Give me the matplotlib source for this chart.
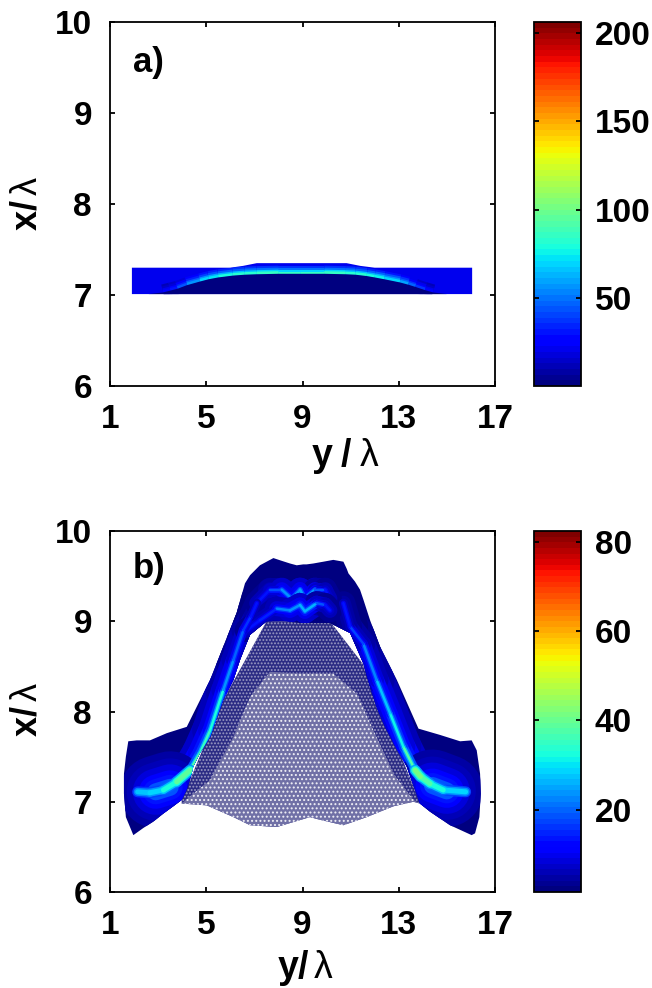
# -*- coding: utf-8 -*-
import numpy as np
import matplotlib
matplotlib.use('Agg')
import matplotlib.pyplot as plt
from matplotlib import cm, colors
from matplotlib.collections import LineCollection
from matplotlib.patches import Polygon

plt.rcParams['font.family'] = ['Liberation Sans', 'DejaVu Sans']
plt.rcParams['font.weight'] = 'bold'
plt.rcParams['mathtext.fontset'] = 'custom'
plt.rcParams['mathtext.bf'] = 'Liberation Sans:bold'
plt.rcParams['mathtext.rm'] = 'Liberation Sans:weight=normal'
plt.rcParams['mathtext.it'] = 'Liberation Sans:weight=normal'
plt.rcParams['hatch.linewidth'] = 0.9

W, H = 652.0, 988.0
jet = plt.get_cmap('jet', 64)

# axis ticks
y_ticks = [1, 5, 9, 13, 17]
x_ticks = [6, 7, 8, 9, 10]
cbar_a_ticks = [50, 100, 150, 200]
cbar_b_ticks = [20, 40, 60, 80]
cbar_a_range = (0.5, 206)
cbar_b_range = (1.5, 82.5)

# panel a: band outline, dome under the ridge, ridge line
a_top_y = [1.91, 6.0, 6.53, 7.10, 10.83, 11.4, 12.0, 16.05]
a_top_x = [7.30, 7.30, 7.32, 7.35, 7.35, 7.32, 7.30, 7.30]
a_bottom_y = [1.91, 16.05]
a_bottom_x = [7.01, 7.01]
a_band_value = 20
a_dome_value = 1
a_ridge_y = [3.2, 3.5, 3.8, 4.2, 4.74, 5.1, 5.5, 6.1, 6.6, 7.1, 8.0, 8.9, 9.9, 10.8, 11.2, 11.67,
             12.0, 12.4, 13.05, 13.4, 13.7, 14.1, 14.43]
a_ridge_x = [7.04, 7.06, 7.08, 7.12, 7.16, 7.185, 7.205, 7.225, 7.235, 7.24, 7.245, 7.245, 7.245, 7.24,
             7.235, 7.22, 7.205, 7.185, 7.15, 7.125, 7.10, 7.065, 7.04]
a_ridge_v = [22, 28, 36, 50, 66, 72, 76, 80, 82, 85, 85, 85, 85, 85, 82, 80, 78, 76, 66, 54, 42, 30, 22]
a_dome_tail_y = [2.6, 15.0]
a_dome_tail_x = [7.01, 7.01]

# panel b: outline of the dense part
b_upper_y = [1.76, 2.11, 2.66, 3.36, 4.19, 4.60, 5.16, 5.71, 6.26, 6.61, 6.82, 7.23, 7.51, 7.79, 8.13,
             8.48, 8.76, 9.03, 9.17, 9.45, 9.87, 10.28, 10.70, 10.84, 10.91, 11.18, 11.39, 11.53,
             11.81, 12.22, 12.92, 13.47, 13.82, 14.72, 15.55, 16.03, 16.24, 16.38, 16.41, 16.35, 16.17]
b_upper_x = [7.67, 7.68, 7.68, 7.76, 7.83, 8.05, 8.35, 8.72, 9.09, 9.42, 9.51, 9.62, 9.66, 9.70, 9.67,
             9.64, 9.62, 9.63, 9.63, 9.64, 9.66, 9.68, 9.66, 9.58, 9.53, 9.44, 9.35, 9.24,
             9.01, 8.72, 8.35, 8.02, 7.81, 7.74, 7.67, 7.68, 7.57, 7.31, 7.09, 6.83, 6.65]
b_lower_y = [16.03, 15.13, 14.3, 13.88, 13.33, 12.78, 12.43, 12.08, 11.81, 11.53, 10.98, 10.14, 8.90,
             8.34, 7.51, 6.82, 6.40, 6.13, 5.71, 5.16, 4.74, 4.46, 4.39, 4.21, 3.98, 3.63, 3.22, 2.80,
             2.39, 1.97, 1.66, 1.58, 1.58, 1.66]
b_lower_x = [6.63, 6.74, 6.89, 6.98, 7.39, 7.65, 7.83, 8.05, 8.27, 8.53, 8.87, 8.98, 8.98,
             9.00, 9.00, 8.85, 8.57, 8.35, 8.13, 7.72, 7.54, 7.39, 7.31, 7.15, 7.02, 6.95, 6.87, 6.78,
             6.71, 6.63, 6.83, 7.09, 7.31, 7.50]
b_dense_value = 2

# panel b: sparse part under the arch
b_sparse_low_y = [3.98, 5.02, 6.13, 6.82, 7.93, 9.31, 9.73, 10.70, 11.67, 12.78, 13.61, 13.88]
b_sparse_low_x = [6.98, 6.96, 6.83, 6.74, 6.72, 6.83, 6.80, 6.74, 6.83, 6.95, 7.00, 6.98]
b_sparse_top_y = [13.88, 11.5, 10.14, 8.90, 7.51, 5.71, 3.98]
b_sparse_top_x = [7.00, 8.53, 9.00, 9.00, 9.00, 8.13, 7.02]
b_light_top_y = [13.61, 12.78, 11.95, 11.25, 10.28, 8.90, 7.65, 6.82, 6.13, 5.16, 4.46]
b_light_top_x = [7.02, 7.31, 7.79, 8.20, 8.42, 8.42, 8.44, 8.16, 7.72, 7.24, 7.09]

# panel b: bright ridges
b_left_y = [4.33, 4.74, 5.16, 5.71, 6.13, 6.54, 6.85, 7.1]
b_left_x = [7.35, 7.54, 7.79, 8.24, 8.57, 8.90, 9.05, 9.20]
b_left_v = [42, 32, 38, 26, 22, 18, 14, 12]
b_right_y = [13.68, 13.19, 12.64, 12.08, 11.53, 10.98, 10.70]
b_right_x = [7.35, 7.61, 7.98, 8.35, 8.75, 8.94, 9.20]
b_right_v = [42, 32, 30, 26, 20, 14, 12]
b_chain1_y = [7.1, 7.65, 8.14, 8.55, 8.90, 9.10, 9.52, 9.94, 10.14]
b_chain1_x = [9.20, 9.35, 9.35, 9.25, 9.35, 9.25, 9.35, 9.35, 9.25]
b_chain1_v = [12, 16, 20, 28, 20, 30, 20, 16, 12]
b_chain2_y = [6.68, 7.23, 7.93, 8.48, 8.90, 9.10, 9.59, 9.94, 10.14]
b_chain2_x = [8.90, 9.01, 9.14, 9.12, 9.18, 9.11, 9.20, 9.18, 9.12]
b_chain2_v = [14, 14, 16, 28, 20, 32, 20, 16, 12]
b_lobe_left_y = [2.15, 2.66, 3.22, 3.77, 4.33]
b_lobe_left_x = [7.11, 7.10, 7.13, 7.22, 7.35]
b_lobe_left_v = [27, 27, 30, 36, 42]
b_lobe_right_y = [15.78, 14.85, 14.30, 13.9, 13.68]
b_lobe_right_x = [7.11, 7.13, 7.20, 7.28, 7.35]
b_lobe_right_v = [28, 30, 36, 40, 42]
# centre of the broad blue glow in each lobe
b_glow_left_y = [2.9, 3.5]
b_glow_left_x = [7.11, 7.16]
b_glow_right_y = [15.0, 14.4]
b_glow_right_x = [7.12, 7.18]
b_glow_steps = [(72, 4.5), (58, 6.5), (46, 8.5), (34, 11), (25, 14), (17, 19)]

# stroke width (px) and share of the ridge value, wide to narrow
a_steps = [(14, 0.45), (10, 0.6), (6, 0.8), (3, 1.0)]
glow_steps = [(36, 0.2), (24, 0.28), (15, 0.38), (9, 0.5), (5, 0.72), (2.5, 1.0)]
lobe_core = [(11, 0.6), (8, 0.82), (5, 1.0)]
px = 72.0 / 100


def axes_px(left, top, right, bottom):
    return plt.gcf().add_axes([left / W, 1 - bottom / H, (right - left) / W, (bottom - top) / H])


def ridge(ax, y, x, v, norm, steps, clip=None, z=3, cap='round'):
    y = np.array(y, float)
    x = np.array(x, float)
    v = np.array(v, float)
    pts = np.column_stack([y, x])
    segs = np.stack([pts[:-1], pts[1:]], axis=1)
    mid = (v[:-1] + v[1:]) / 2.0
    for i, (w, f) in enumerate(steps):
        lc = LineCollection(segs, colors=jet(norm(mid * f)), linewidths=w * px,
                            capstyle=cap, joinstyle='round', zorder=z + i * 0.01)
        ax.add_collection(lc)
        if clip is not None:
            lc.set_clip_path(clip)


def lobe_glow(ax, y, x, norm, clip, z):
    for i, (w, v) in enumerate(b_glow_steps):
        line, = ax.plot(y, x, color=jet(norm(v)), lw=w * px, solid_capstyle='round', zorder=z + i * 0.01)
        line.set_clip_path(clip)


def dress(ax, cax, norm, cticks, ylab, letter, ltop):
    ax.set_xlim(1, 17)
    ax.set_ylim(6, 10)
    ax.set_xticks(y_ticks)
    ax.set_yticks(x_ticks)
    ax.tick_params(axis='x', direction='in', length=3.5, width=1.3, top=True, labelsize=24, pad=13)
    ax.tick_params(axis='y', direction='in', length=3.5, width=1.3, right=True, labelsize=24, pad=13)
    for s in ax.spines.values():
        s.set_linewidth(1.3)
    ax.text(1.96, ltop, letter, fontsize=25, fontweight='bold', va='center', ha='left', zorder=10)
    cb = plt.gcf().colorbar(cm.ScalarMappable(norm=norm, cmap=jet), cax=cax)
    cb.set_ticks(cticks)
    cax.tick_params(axis='y', direction='in', length=3.5, width=1.3, left=True, right=True,
                    labelsize=24, pad=10)
    cb.outline.set_linewidth(1.3)
    plt.gcf().text(27 / W, 1 - ylab / H, r'$\mathbf{x/}\,\mathrm{\lambda}$', rotation=90, fontsize=26,
                   ha='center', va='center')


fig = plt.figure(figsize=(W / 100, H / 100), dpi=100)

# panel a
ax = axes_px(110, 22, 495, 386)
cax = axes_px(534, 22, 581, 386)
norm_a = colors.Normalize(*cbar_a_range)
band = ax.fill(a_top_y + a_bottom_y[::-1], a_top_x + a_bottom_x[::-1], color=jet(norm_a(a_band_value)), lw=0, zorder=2)[0]
ridge(ax, a_ridge_y, a_ridge_x, a_ridge_v, norm_a, a_steps, clip=band, cap='butt')
dome_y = a_dome_tail_y[:1] + a_ridge_y + a_dome_tail_y[1:]
dome_x = a_dome_tail_x[:1] + [v - 0.012 for v in a_ridge_x] + a_dome_tail_x[1:]
ax.fill(dome_y, dome_x, color=jet(norm_a(a_dome_value)), lw=0, zorder=4)
dress(ax, cax, norm_a, cbar_a_ticks, 204, 'a)', 9.56)
fig.text(346 / W, 1 - 456 / H, r'$\mathbf{y\;/}\;\mathrm{\lambda}$', fontsize=27, ha='center', va='center')

# panel b
ax = axes_px(110, 531, 495, 892)
cax = axes_px(534, 531, 581, 892)
norm_b = colors.Normalize(*cbar_b_range)
sparse = np.column_stack([b_sparse_low_y + b_sparse_top_y, b_sparse_low_x + b_sparse_top_x])
ax.add_patch(Polygon(sparse, closed=True, facecolor='#2c2c84', edgecolor='#9c9cc4', hatch='.....', lw=0, zorder=1))
light = np.column_stack([b_sparse_low_y + b_light_top_y, b_sparse_low_x + b_light_top_x])
ax.add_patch(Polygon(light, closed=True, facecolor='#7070a6', edgecolor='#f0f0f6', hatch='....', lw=0, zorder=1.5))
dense = np.column_stack([b_upper_y + b_lower_y, b_upper_x + b_lower_x])
patch = Polygon(dense, closed=True, facecolor=jet(norm_b(b_dense_value)), edgecolor='none', zorder=2)
ax.add_patch(patch)
ridge(ax, b_left_y, b_left_x, b_left_v, norm_b, glow_steps[:3], clip=patch)
ridge(ax, b_right_y, b_right_x, b_right_v, norm_b, glow_steps[:3], clip=patch)
ridge(ax, b_chain1_y, b_chain1_x, b_chain1_v, norm_b, glow_steps[1:], clip=patch, z=3.2)
ridge(ax, b_chain2_y, b_chain2_x, b_chain2_v, norm_b, glow_steps[1:], clip=patch, z=3.25)
lobe_glow(ax, b_glow_left_y, b_glow_left_x, norm_b, patch, 3.3)
lobe_glow(ax, b_glow_right_y, b_glow_right_x, norm_b, patch, 3.3)
ridge(ax, b_left_y, b_left_x, b_left_v, norm_b, glow_steps[3:], clip=patch, z=3.5)
ridge(ax, b_right_y, b_right_x, b_right_v, norm_b, glow_steps[3:], clip=patch, z=3.5)
ridge(ax, b_lobe_left_y, b_lobe_left_x, b_lobe_left_v, norm_b, lobe_core, clip=patch, z=3.6)
ridge(ax, b_lobe_right_y, b_lobe_right_x, b_lobe_right_v, norm_b, lobe_core, clip=patch, z=3.6)
dress(ax, cax, norm_b, cbar_b_ticks, 710, 'b)', 9.58)
fig.text(305 / W, 1 - 968 / H, r'$\mathbf{y/}\,\mathrm{\lambda}$', fontsize=27, ha='center', va='center')

fig.savefig('out.png', dpi=100)
